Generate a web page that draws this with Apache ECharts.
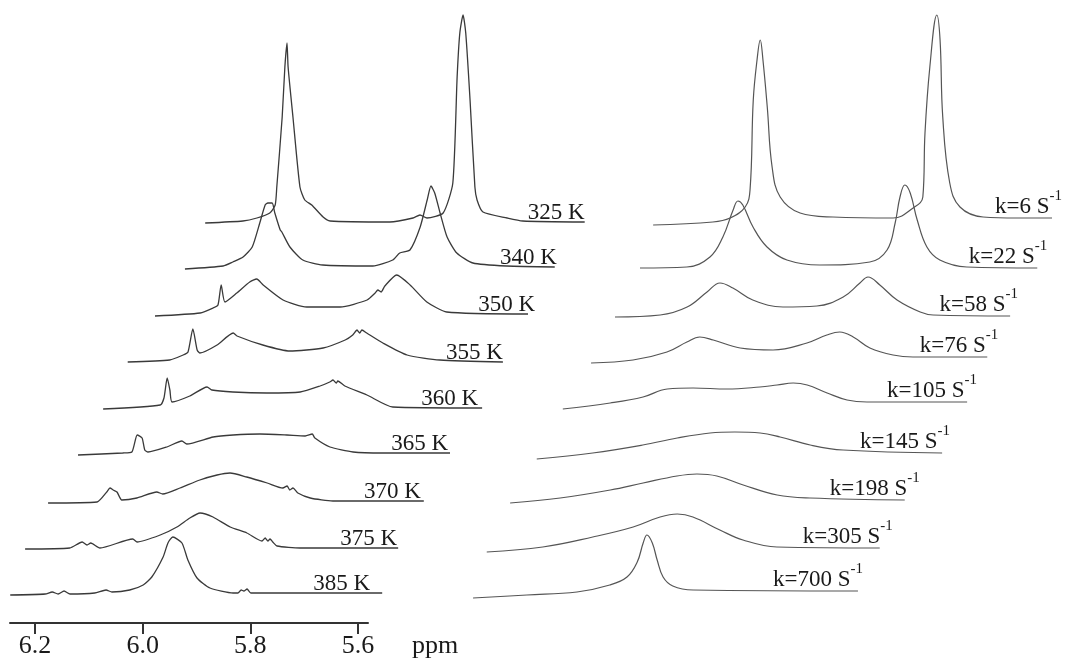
<!DOCTYPE html>
<html>
<head>
<meta charset="utf-8">
<title>VT NMR spectra and simulated exchange spectra</title>
<script src="https://cdn.jsdelivr.net/npm/echarts@6/dist/echarts.min.js"></script>
<style>
    html, body { margin: 0; padding: 0; background: #fff; }
    #main { width: 1065px; height: 659px; }
</style>
</head>
<body>
<div id="main"></div>
<script>
// experimental spectra, bottom trace first: [ppm, intensity]
var temps = ['385 K', '375 K', '370 K', '365 K', '360 K', '355 K', '350 K', '340 K', '325 K'];

var exp385 = [[6.246,-0.5],[6.181,0.5],[6.168,2.5],[6.157,0.5],[6.146,3.5],[6.135,0.5],[6.089,1.5],[6.068,4.5],[6.057,2.5],[6.024,4.5],[5.999,9.5],[5.983,17.5],[5.962,37.5],[5.953,51.5],[5.944,57.5],[5.927,51.5],[5.916,34.5],[5.899,16.5],[5.875,6.5],[5.832,1.5],[5.823,1.5],[5.817,4.5],[5.812,3.5],[5.806,5.5],[5.799,1.5],[5.708,1.5],[5.555,1.5]];
var exp375 = [[6.262,-1],[6.179,0],[6.156,6],[6.147,3],[6.140,5],[6.123,0],[6.062,9],[6.054,6],[6.011,13],[5.980,21],[5.956,30],[5.937,35],[5.913,31],[5.881,21],[5.850,15],[5.822,7],[5.816,10],[5.811,7],[5.807,9],[5.802,6],[5.794,2],[5.751,0],[5.569,0]];
var exp370 = [[6.263,-1.5],[6.172,-0.5],[6.154,9.5],[6.148,13.5],[6.142,11.5],[6.135,9.5],[6.126,1.5],[6.098,3.5],[6.061,9.5],[6.050,7.5],[6.018,13.5],[5.981,21.5],[5.949,26.5],[5.925,28.5],[5.894,24.5],[5.856,18.5],[5.827,13.5],[5.819,15.5],[5.814,11.5],[5.808,13.5],[5.799,8.5],[5.776,3.5],[5.734,0.5],[5.565,0.5]];
var exp365 = [[6.251,0],[6.168,2],[6.151,3],[6.141,20],[6.132,17],[6.127,5],[6.121,3],[6.086,8],[6.058,14],[6.049,11],[6.000,18],[5.963,20],[5.913,21],[5.863,20],[5.829,19],[5.816,21],[5.811,17],[5.783,8],[5.740,3],[5.685,2],[5.560,2]];
var exp360 = [[6.248,-0.5],[6.142,3.5],[6.135,10.5],[6.129,30.5],[6.124,18.5],[6.120,6.5],[6.087,12.5],[6.055,21.5],[6.046,18.5],[6.007,16.5],[5.944,15.5],[5.882,16.5],[5.845,22.5],[5.827,26.5],[5.821,28.5],[5.815,25.5],[5.812,27.5],[5.799,22.5],[5.758,13.5],[5.710,1.5],[5.544,0.5]];
var exp355 = [[6.246,0],[6.168,2],[6.143,7],[6.134,10],[6.125,33],[6.117,12],[6.112,9],[6.080,17],[6.050,29],[6.043,26],[5.995,17],[5.945,11],[5.883,14],[5.842,22],[5.828,27],[5.820,32],[5.815,29],[5.811,32],[5.802,29],[5.772,19],[5.727,7],[5.666,2],[5.549,0]];
var exp350 = [[6.239,-0.5],[6.155,2.5],[6.131,7.5],[6.122,10.5],[6.116,30.5],[6.109,13.5],[6.087,22.5],[6.063,33.5],[6.050,36.5],[6.038,30.5],[6.001,15.5],[5.957,8.5],[5.895,8.5],[5.845,15.5],[5.830,22.5],[5.825,25.5],[5.819,23.5],[5.812,29.5],[5.790,40.5],[5.765,30.5],[5.734,13.5],[5.697,3.5],[5.546,1.5]];
var exp340 = [[6.227,0],[6.156,3],[6.138,7],[6.119,12],[6.102,22],[6.088,46],[6.078,64],[6.073,66],[6.065,66],[6.060,56],[6.050,39],[6.047,37],[6.032,22],[6.008,9],[5.971,4],[5.878,3],[5.841,9],[5.828,16],[5.809,19],[5.790,42],[5.777,69],[5.770,83],[5.763,76],[5.753,56],[5.740,32],[5.722,16],[5.692,6],[5.629,3],[5.540,2]];
var exp325 = [[6.233,-0.5],[6.163,1.5],[6.137,4.5],[6.113,9.5],[6.103,17.5],[6.100,35.5],[6.090,105.5],[6.085,155.5],[6.081,179.5],[6.079,155.5],[6.070,105.5],[6.057,35.5],[6.048,22.5],[6.035,17.5],[6.014,5.5],[6.001,1.5],[5.890,0.5],[5.847,4.5],[5.834,7.5],[5.821,4.5],[5.791,9.5],[5.773,39.5],[5.765,145.5],[5.760,189.5],[5.754,207.5],[5.749,189.5],[5.741,122.5],[5.732,35.5],[5.728,22.5],[5.717,10.5],[5.672,4.5],[5.643,1.5],[5.528,0.5]];

// simulated spectra, bottom trace first
var rates = [700, 305, 198, 145, 105, 76, 58, 22, 6];

var sim700 = [[6.245,-3.5],[6.145,-0.5],[6.052,2.5],[5.991,9.5],[5.959,17.5],[5.940,32.5],[5.929,51.5],[5.922,59.5],[5.912,51.5],[5.903,34.5],[5.892,17.5],[5.874,8.5],[5.836,4.5],[5.530,3.5]];
var sim305 = [[6.266,-4],[6.162,1],[6.069,11],[5.994,21],[5.944,31],[5.912,34],[5.883,31],[5.833,18],[5.790,8],[5.727,1],[5.536,0]];
var sim198 = [[6.269,-1.5],[6.176,3.5],[6.083,11.5],[6.022,18.5],[5.959,25.5],[5.922,27.5],[5.885,25.5],[5.836,16.5],[5.773,6.5],[5.712,3.5],[5.536,1.5]];
var sim145 = [[6.266,-4],[6.162,2],[6.069,10],[6.005,17],[5.944,22],[5.898,23],[5.851,22],[5.814,18],[5.758,10],[5.697,5],[5.513,2]];
var sim105 = [[6.264,-0.5],[6.176,5.5],[6.115,11.5],[6.070,19.5],[6.022,20.5],[5.959,19.5],[5.898,21.5],[5.866,23.5],[5.836,25.5],[5.810,23.5],[5.773,15.5],[5.736,8.5],[5.699,6.5],[5.513,6.5]];
var sim76 = [[6.258,-1],[6.180,2],[6.117,10],[6.080,20],[6.056,25],[6.031,22],[5.981,14],[5.920,12],[5.857,19],[5.820,27],[5.796,30],[5.771,25],[5.740,14],[5.697,7],[5.660,5],[5.522,5]];
var sim58 = [[6.260,-1.5],[6.176,0.5],[6.126,8.5],[6.089,23.5],[6.065,32.5],[6.041,27.5],[6.004,15.5],[5.948,8.5],[5.885,9.5],[5.836,18.5],[5.805,32.5],[5.790,38.5],[5.768,30.5],[5.736,15.5],[5.693,3.5],[5.669,0.5],[5.526,-0.5]];
var sim22 = [[6.260,1],[6.173,2],[6.130,12],[6.106,32],[6.087,59],[6.078,68],[6.069,64],[6.050,42],[6.024,22],[5.987,9],[5.926,4],[5.833,7],[5.801,19],[5.786,46],[5.777,72],[5.768,84],[5.758,76],[5.745,49],[5.727,22],[5.703,9],[5.653,2],[5.522,1]];
var sim6 = [[6.282,-2.5],[6.171,0.5],[6.139,4.5],[6.111,15.5],[6.102,32.5],[6.096,122.5],[6.089,162.5],[6.083,182.5],[6.078,162.5],[6.070,115.5],[6.061,55.5],[6.046,25.5],[6.009,9.5],[5.948,5.5],[5.836,4.5],[5.799,14.5],[5.781,25.5],[5.777,89.5],[5.768,155.5],[5.755,207.5],[5.749,182.5],[5.744,105.5],[5.731,39.5],[5.712,15.5],[5.669,5.5],[5.606,4.5],[5.541,4.5]];

var ppmTicks = [6.2, 6.0, 5.8, 5.6];

var expSpectra = [exp385, exp375, exp370, exp365, exp360, exp355, exp350, exp340, exp325];
var simSpectra = [sim700, sim305, sim198, sim145, sim105, sim76, sim58, sim22, sim6];

// stacked plot offsets and label gaps (px)
var firstRow = 28.5, rowGap = 46.5;
var expStep = 0.04365, simStep = 0.04644;
var expLabelGap = [12, 1, 3, 2, 4, 0, -7, -2, 0];
var simLabelGap = [-5, -13, -15, -8, -10, -11, -8, -10, -10];
var serif = 'Liberation Serif';

function stack(points, i, step) {
    return points.map(function (p) {
        return [p[0] - i * step, p[1] + firstRow + i * rowGap];
    });
}

var series = [];
expSpectra.forEach(function (pts, i) {
    series.push({
        type: 'line',
        xAxisIndex: 0,
        yAxisIndex: 0,
        data: stack(pts, i, expStep),
        symbol: 'none',
        smooth: 0.2,
        clip: false,
        silent: true,
        lineStyle: { color: '#3a3a3a', width: 1.3 },
        endLabel: {
            show: true,
            formatter: temps[i],
            distance: expLabelGap[i],
            verticalAlign: 'bottom',
            fontFamily: serif,
            fontSize: 23,
            lineHeight: 18,
            color: '#1a1a1a'
        }
    });
});
simSpectra.forEach(function (pts, i) {
    series.push({
        type: 'line',
        xAxisIndex: 1,
        yAxisIndex: 1,
        data: stack(pts, i, simStep),
        symbol: 'none',
        smooth: 0.4,
        clip: false,
        silent: true,
        lineStyle: { color: '#555', width: 1.2 },
        endLabel: {
            show: true,
            formatter: '{m|k=' + rates[i] + ' S}{s|-1}',
            distance: simLabelGap[i],
            verticalAlign: 'bottom',
            rich: {
                m: { fontFamily: serif, fontSize: 23, color: '#1a1a1a', verticalAlign: 'bottom' },
                s: { fontFamily: serif, fontSize: 15, color: '#1a1a1a', verticalAlign: 'bottom', padding: [0, 0, 14, 0] }
            }
        }
    });
});

var myChart = echarts.init(document.getElementById('main'));
var option = {
    animation: false,
    backgroundColor: '#fff',
    grid: [
        { left: 0, top: 0, width: 600, height: 623 },     // experimental traces
        { left: 440, top: 0, width: 625, height: 623 },   // simulated traces
        { left: 10, top: 0, width: 358, height: 623 }     // ppm scale
    ],
    xAxis: [
        { type: 'value', gridIndex: 0, min: 5.1504, max: 6.265, inverse: true, show: false },
        { type: 'value', gridIndex: 1, min: 5.1454, max: 6.3064, inverse: true, show: false },
        {
            type: 'value', gridIndex: 2, min: 5.5814, max: 6.2464, inverse: true,
            name: 'ppm',
            nameLocation: 'start',
            nameGap: 44,
            nameTextStyle: { fontFamily: serif, fontSize: 26, color: '#1a1a1a', verticalAlign: 'top', padding: [10, 0, 0, 0] },
            axisLine: { lineStyle: { color: '#333', width: 2 } },
            axisTick: { customValues: ppmTicks, length: 11, lineStyle: { color: '#333', width: 2 } },
            axisLabel: {
                customValues: ppmTicks,
                margin: 10,
                fontFamily: serif,
                fontSize: 26,
                color: '#1a1a1a',
                formatter: function (v) { return v.toFixed(1); }
            },
            splitLine: { show: false }
        }
    ],
    yAxis: [
        { type: 'value', gridIndex: 0, min: 0, max: 623, show: false },
        { type: 'value', gridIndex: 1, min: 0, max: 623, show: false },
        { type: 'value', gridIndex: 2, min: 0, max: 623, show: false }
    ],
    series: series
};
myChart.setOption(option);
</script>
</body>
</html>
